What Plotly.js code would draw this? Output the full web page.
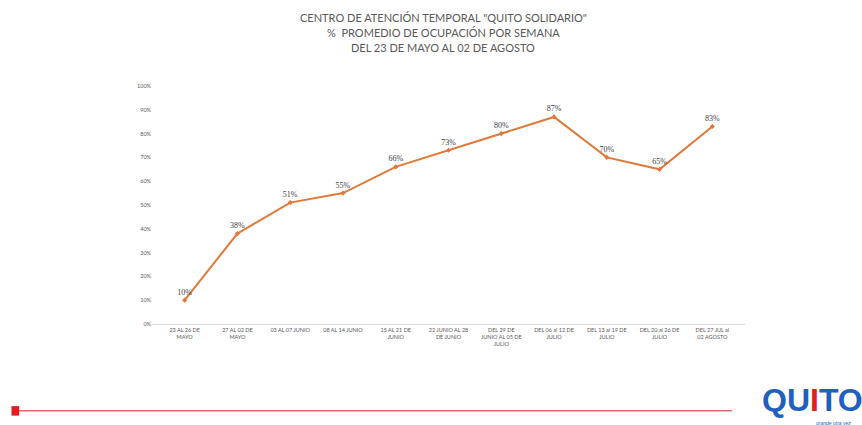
<!DOCTYPE html>
<html>
<head>
<meta charset="utf-8">
<script src="https://cdn.plot.ly/plotly-3.0.1.min.js"></script>
<style>html,body{margin:0;padding:0;background:#fff;}#chart{width:862px;height:425px;}</style>
</head>
<body>
<div id="chart"></div>
<script>
// Weekly periods (category labels)
const categories = [
  "23 AL 26 DE<br>MAYO",
  "27 AL 02 DE<br>MAYO",
  "03 AL 07 JUNIO",
  "08 AL 14 JUNIO",
  "15 AL 21 DE<br>JUNIO",
  "22 JUNIO AL 28<br>DE JUNIO",
  "DEL 29 DE<br>JUNIO AL 05 DE<br>JULIO",
  "DEL 06 al 12 DE<br>JULIO",
  "DEL 13 al 19 DE<br>JULIO",
  "DEL 20 al 26 DE<br>JULIO",
  "DEL 27 JUL al<br>02 AGOSTO"
];
// Average occupancy per week (%)
const occupancy = [10, 38, 51, 55, 66, 73, 80, 87, 70, 65, 83];
const yTickVals = [0,10,20,30,40,50,60,70,80,90,100];
const yTickText = ["0%","10%","20%","30%","40%","50%","60%","70%","80%","90%","100%"];
const titleLines = [
  'CENTRO DE ATENCIÓN TEMPORAL "QUITO SOLIDARIO"',
  '%  PROMEDIO DE OCUPACIÓN POR SEMANA',
  'DEL 23 DE MAYO AL 02 DE AGOSTO'
];
const titleY = [1.286, 1.223, 1.160];

const trace = {
  x: categories,
  y: occupancy,
  type: 'scatter',
  mode: 'lines+markers+text',
  line: {color: '#E0793A', width: 2},
  marker: {color: '#E0793A', size: 4, symbol: 'diamond'},
  text: occupancy.map(v => v + '%'),
  textposition: 'top center',
  textfont: {family: 'Liberation Serif, serif', size: 8, color: '#404040'},
  cliponaxis: false,
  hoverinfo: 'skip'
};

const titleAnnotations = titleLines.map((t, i) => ({
  xref: 'paper', yref: 'paper', x: 0.491, y: titleY[i],
  xanchor: 'center', yanchor: 'middle', showarrow: false, text: t,
  font: {family: 'Lato, sans-serif', size: 11, color: '#595959'}
}));

const layout = {
  width: 862, height: 425,
  margin: {l: 152, r: 117, t: 86, b: 101},
  paper_bgcolor: '#ffffff',
  plot_bgcolor: '#ffffff',
  showlegend: false,
  xaxis: {
    type: 'category',
    showgrid: false,
    zeroline: false,
    showline: true,
    linecolor: '#D9D9D9',
    linewidth: 1,
    ticks: '',
    tickangle: 0,
    tickfont: {family: 'Lato, sans-serif', size: 5.5, color: '#595959'},
    automargin: false
  },
  yaxis: {
    range: [0, 100],
    tickvals: yTickVals,
    ticktext: yTickText,
    showgrid: false,
    zeroline: false,
    showline: false,
    ticks: '',
    tickfont: {family: 'Lato, sans-serif', size: 5.5, color: '#595959'},
    automargin: false
  },
  shapes: [
    {type: 'line', xref: 'paper', yref: 'paper', x0: -0.228, x1: 0.978, y0: -0.365, y1: -0.365,
     line: {color: '#E26A6A', width: 1.5}},
    {type: 'rect', xref: 'paper', yref: 'paper', x0: -0.237, x1: -0.224, y0: -0.345, y1: -0.385,
     fillcolor: '#E02020', line: {width: 0}}
  ],
  annotations: titleAnnotations.concat([
    {xref: 'paper', yref: 'paper', x: 1.113, y: -0.32, xanchor: 'center', yanchor: 'middle',
     text: '<b><span style="color:#1F5FBF">QU</span><span style="color:#E02020">I</span><span style="color:#1F5FBF">TO</span></b>',
     showarrow: false, font: {family: 'Liberation Sans, sans-serif', size: 32}},
    {xref: 'paper', yref: 'paper', x: 1.15, y: -0.415, xanchor: 'center', yanchor: 'middle',
     text: '<i>grande otra vez</i>', showarrow: false,
     font: {family: 'Liberation Sans, sans-serif', size: 5, color: '#1F5FBF'}}
  ])
};

Plotly.newPlot('chart', [trace], layout, {displayModeBar: false, staticPlot: true});
</script>
</body>
</html>
